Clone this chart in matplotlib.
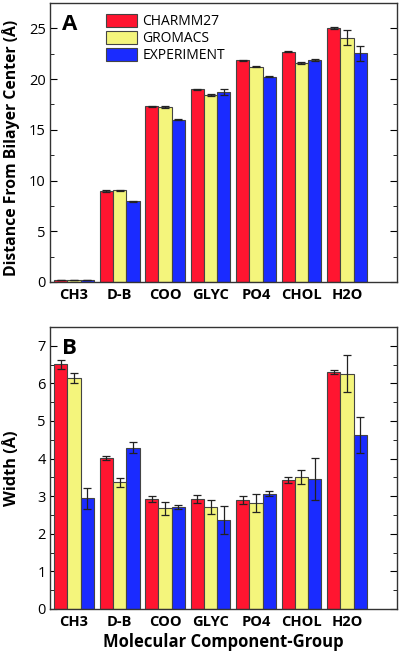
import matplotlib
matplotlib.use("Agg")
import matplotlib.pyplot as plt
import numpy as np
from matplotlib.ticker import MultipleLocator

categories = ["CH3", "D-B", "COO", "GLYC", "PO4", "CHOL", "H2O"]
series = ["CHARMM27", "GROMACS", "EXPERIMENT"]

dist_charmm = [0.15, 8.96, 17.34, 18.97, 21.84, 22.69, 25.0]
dist_gromacs = [0.15, 9.05, 17.27, 18.45, 21.22, 21.61, 24.09]
dist_exp = [0.15, 7.95, 16.0, 18.71, 20.21, 21.90, 22.52]
dist_charmm_err = [0.0, 0.06, 0.05, 0.06, 0.06, 0.05, 0.1]
dist_gromacs_err = [0.0, 0.06, 0.1, 0.08, 0.08, 0.08, 0.75]
dist_exp_err = [0.0, 0.06, 0.03, 0.32, 0.05, 0.08, 0.75]

width_charmm = [6.51, 4.02, 2.92, 2.92, 2.90, 3.43, 6.30]
width_gromacs = [6.14, 3.37, 2.68, 2.71, 2.82, 3.51, 6.26]
width_exp = [2.94, 4.29, 2.71, 2.37, 3.07, 3.46, 4.63]
width_charmm_err = [0.12, 0.06, 0.08, 0.1, 0.1, 0.09, 0.05]
width_gromacs_err = [0.13, 0.12, 0.17, 0.18, 0.24, 0.18, 0.5]
width_exp_err = [0.28, 0.15, 0.05, 0.38, 0.07, 0.55, 0.48]

colors = ["#ff1530", "#f4f57c", "#1a2bff"]

plt.rcParams['font.family'] = ['Open Sans', 'DejaVu Sans']

fig = plt.figure(figsize=(4.0, 6.52), dpi=100)
axA = fig.add_axes([0.125, 0.5675, 0.8675, 0.428])
axB = fig.add_axes([0.125, 0.066, 0.8675, 0.4325])

x = np.arange(len(categories))
bw = 0.292

def draw(ax, vals, errs):
    for i, (v, e) in enumerate(zip(vals, errs)):
        ax.bar(x + (i - 1) * bw, v, bw, color=colors[i], edgecolor="#444444",
               linewidth=0.8, label=series[i], zorder=2)
        ax.errorbar(x + (i - 1) * bw, v, yerr=e, fmt="none", ecolor="#222222",
                    elinewidth=0.9, capsize=2.8, capthick=0.9, zorder=3)
    ax.set_xlim(-0.53, 7.1)
    ax.set_xticks(x)
    ax.set_xticklabels(categories, fontweight="bold", fontsize=10.5)
    ax.tick_params(axis="x", length=0, pad=4)
    ax.tick_params(axis="y", which="both", direction="in", right=True, labelsize=10.5, pad=3)
    ax.tick_params(axis="y", which="major", length=5)
    ax.tick_params(axis="y", which="minor", length=3)
    for s in ax.spines.values():
        s.set_linewidth(1.0)
        s.set_color("#333333")

draw(axA, [dist_charmm, dist_gromacs, dist_exp], [dist_charmm_err, dist_gromacs_err, dist_exp_err])
axA.set_ylim(0, 27.5)
axA.yaxis.set_major_locator(MultipleLocator(5))
axA.yaxis.set_minor_locator(MultipleLocator(2.5))
axA.set_ylabel("Distance From Bilayer Center (Å)", fontweight="bold", fontsize=11.3)
axA.yaxis.set_label_coords(-0.086, 0.48)
axA.text(0.035, 0.96, "A", transform=axA.transAxes, fontsize=16, fontweight="bold",
         va="top", ha="left")
axA.legend(loc="upper left", bbox_to_anchor=(0.16, 0.96), frameon=False, fontsize=10,
           handlelength=2.3, handleheight=1.0, handletextpad=0.35, labelspacing=0.15,
           borderaxespad=0, borderpad=0)

draw(axB, [width_charmm, width_gromacs, width_exp], [width_charmm_err, width_gromacs_err, width_exp_err])
axB.set_ylim(0, 7.5)
axB.yaxis.set_major_locator(MultipleLocator(1))
axB.yaxis.set_minor_locator(MultipleLocator(0.5))
axB.set_ylabel("Width (Å)", fontweight="bold", fontsize=11.8)
axB.yaxis.set_label_coords(-0.086, 0.5)
axB.set_xlabel("Molecular Component-Group", fontweight="bold", fontsize=12, labelpad=3)
axB.text(0.035, 0.96, "B", transform=axB.transAxes, fontsize=16, fontweight="bold",
         va="top", ha="left")

fig.savefig("out.png", dpi=100)
